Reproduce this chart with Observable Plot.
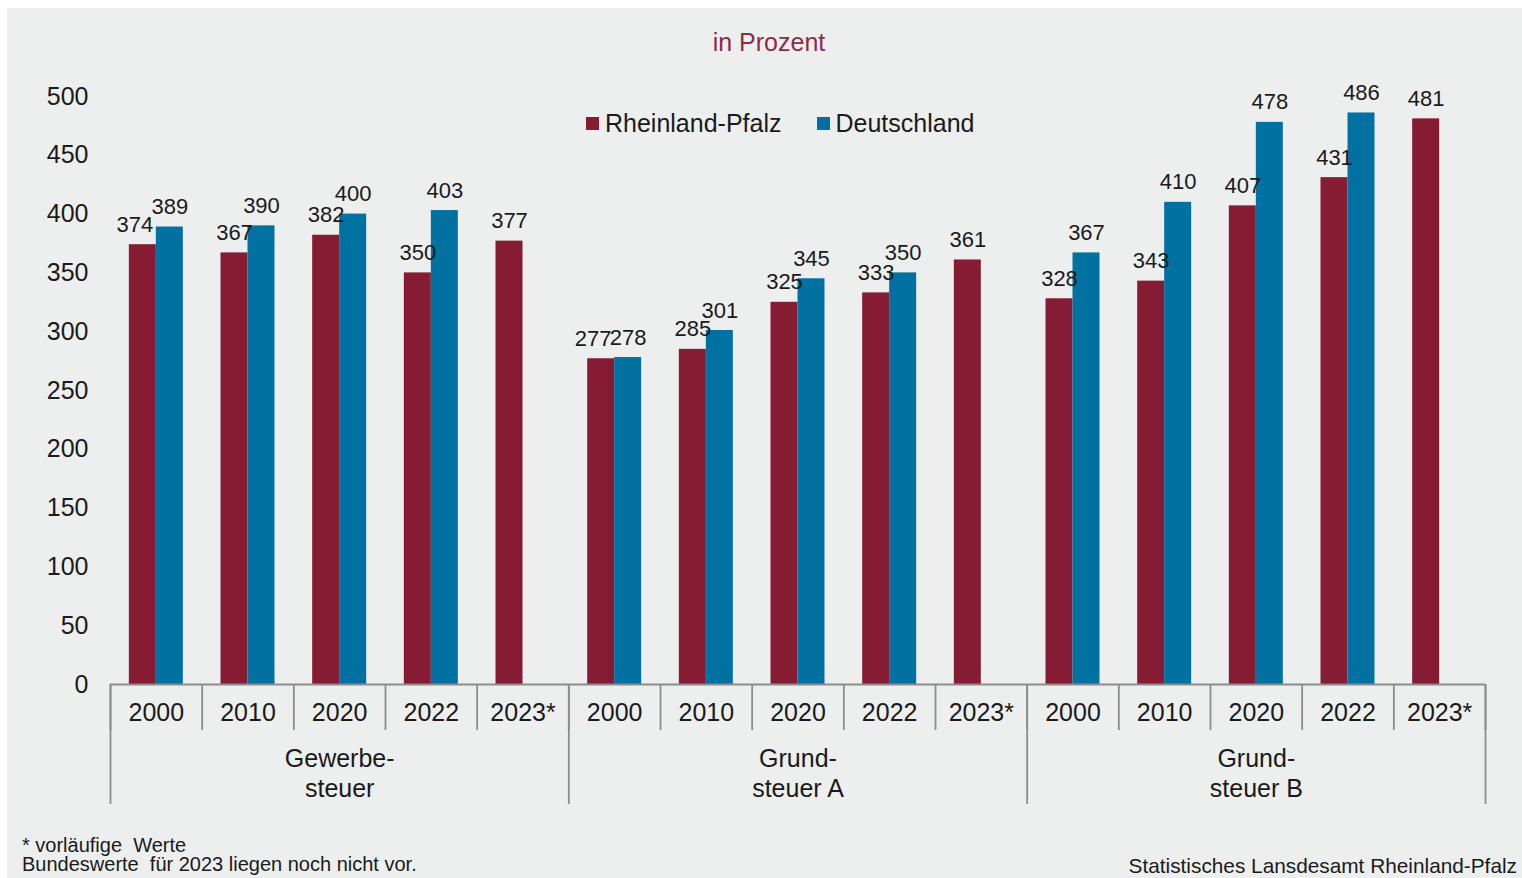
<!DOCTYPE html>
<html>
<head>
<meta charset="utf-8">
<script src="https://cdn.jsdelivr.net/npm/d3@7"></script>
<script src="https://cdn.jsdelivr.net/npm/@observablehq/plot@0.6"></script>
<style>
  html, body { margin: 0; padding: 0; background: #ffffff; overflow: hidden; }
  body { width: 1522px; height: 878px; position: relative; font-family: "Liberation Sans", Arial, sans-serif; color: #1a1a1a; }
  #panel { position: absolute; left: 7px; top: 8px; width: 1515px; height: 880px; background: #edefee; }
  #chart { position: absolute; left: 0; top: 0; }
  .abs { position: absolute; white-space: pre; }
  #title { left: 0; width: 1538px; top: 28px; text-align: center; font-size: 25px; color: #8e2b45; }
  #legend { left: 586px; top: 109px; font-size: 25px; display: flex; align-items: center; }
  #legend .sw { display: inline-block; width: 13px; height: 13px; margin-right: 6px; }
  #legend .item { display: flex; align-items: center; margin-right: 35px; }
  #foot { left: 22px; top: 836px; font-size: 20px; line-height: 19px; }
  #source { right: 5px; top: 854px; font-size: 20.8px; }
</style>
</head>
<body>
<div id="panel"></div>
<div id="chart"></div>
<div id="title" class="abs">in Prozent</div>
<div id="legend" class="abs"></div>
<div id="foot" class="abs">* vorläufige  Werte
Bundeswerte  für 2023 liegen noch nicht vor.</div>
<div id="source" class="abs">Statistisches Lansdesamt Rheinland-Pfalz</div>
<script>
// ---- data ----
const groups = ["Gewerbe-\nsteuer", "Grund-\nsteuer A", "Grund-\nsteuer B"];
const years = ["2000", "2010", "2020", "2022", "2023*"];
const seriesNames = ["Rheinland-Pfalz", "Deutschland"];
const rlp = [374, 367, 382, 350, 377, 277, 285, 325, 333, 361, 328, 343, 407, 431, 481];
const de  = [389, 390, 400, 403, null, 278, 301, 345, 350, null, 367, 410, 478, 486, null];
const yTicks = [0, 50, 100, 150, 200, 250, 300, 350, 400, 450, 500];

const colors = ["#851c33", "#0071a1"];
const axisGray = "#8c8c8c";

// ---- derived table ----
const nCat = rlp.length;
const perGroup = years.length;
const half = 0.2945; // bar width as fraction of a category slot
const rows = [];
rlp.forEach((v, i) => {
  rows.push({i, series: seriesNames[0], v, x1: i + 0.5 - half, x2: i + 0.5,
             crowd: de[i] != null && Math.abs(de[i] - v) < 16});
  if (de[i] != null) rows.push({i, series: seriesNames[1], v: de[i], x1: i + 0.5, x2: i + 0.5 + half, crowd: false});
});
const cats = d3.range(nCat).map(i => ({i, year: years[i % perGroup]}));
const grp = groups.map((g, k) => ({g, c: k * perGroup + perGroup / 2}));

const W = 1522, H = 878;
const chart = Plot.plot({
  width: W, height: H,
  marginTop: 96, marginBottom: 194, marginLeft: 110, marginRight: 37,
  style: {background: "transparent", fontFamily: "'Liberation Sans', Arial, sans-serif", fontSize: "25px", color: "#1a1a1a", overflow: "visible"},
  x: {domain: [0, nCat]},
  y: {domain: [0, 500]},
  color: {domain: seriesNames, range: colors},
  marks: [
    Plot.rect(rows, {x1: "x1", x2: "x2", y1: 0, y2: "v", fill: "series"}),
    Plot.ruleY([0], {stroke: axisGray, strokeWidth: 1.8}),
    Plot.axisY(yTicks, {tickSize: 0, tickPadding: 22, fontSize: 25, label: null}),
    Plot.axisX(d3.range(nCat + 1), {tickSize: 46, tickFormat: () => "", stroke: axisGray, strokeWidth: 1.8, label: null}),
    Plot.axisX(d3.range(0, nCat + 1, perGroup), {tickSize: 120, tickFormat: () => "", stroke: axisGray, strokeWidth: 1.8, label: null}),
    Plot.text(cats, {x: d => d.i + 0.5, text: "year", frameAnchor: "bottom", lineAnchor: "top", dy: 19, fontSize: 25}),
    Plot.text(grp, {x: "c", text: "g", frameAnchor: "bottom", lineAnchor: "top", dy: 61, fontSize: 25, lineHeight: 1.2}),
    Plot.text(rows.filter(d => !d.crowd), {x: d => (d.x1 + d.x2) / 2, y: "v", text: d => String(d.v), lineAnchor: "bottom", dy: -13, fontSize: 22}),
    Plot.text(rows.filter(d => d.crowd), {x: d => (d.x1 + d.x2) / 2, y: "v", text: d => String(d.v), lineAnchor: "bottom", dy: -13, dx: -8, fontSize: 22})
  ]
});
document.getElementById("chart").appendChild(chart);

const legend = document.getElementById("legend");
seriesNames.forEach((s, k) => {
  const item = document.createElement("span");
  item.className = "item";
  const sw = document.createElement("span");
  sw.className = "sw";
  sw.style.background = colors[k];
  item.appendChild(sw);
  item.appendChild(document.createTextNode(s));
  legend.appendChild(item);
});
</script>
</body>
</html>
